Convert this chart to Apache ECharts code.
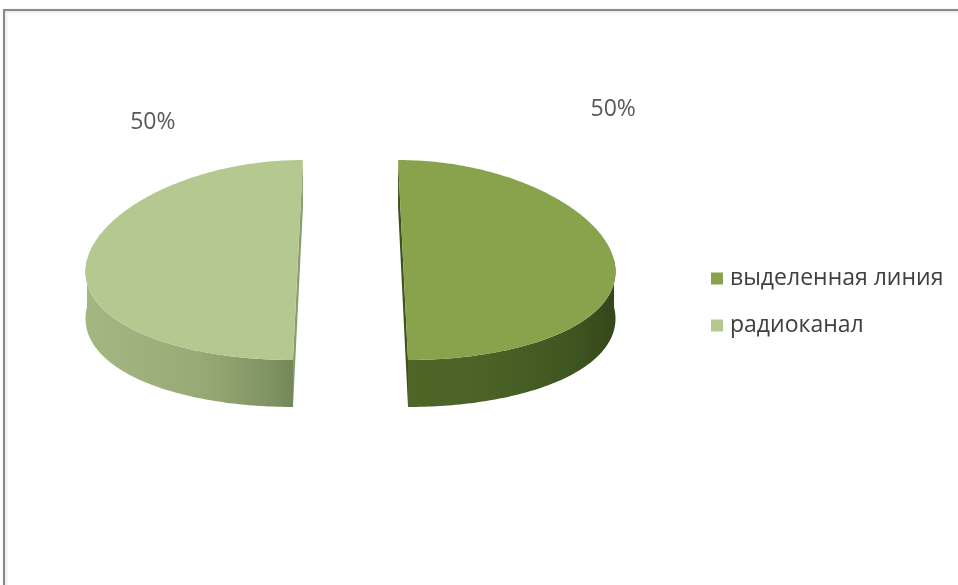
<!DOCTYPE html>
<html>
<head>
<meta charset="utf-8">
<script src="https://cdn.jsdelivr.net/npm/echarts@6/dist/echarts.min.js"></script>
<style>
html,body{margin:0;padding:0;background:#fff;}
#chart{width:958px;height:585px;}
</style>
</head>
<body>
<div id="chart"></div>
<script>
// ---- data ----
const categories = ['выделенная линия', 'радиоканал'];
const values = [50, 50];

// ---- styles ----
const topColors = ['#88a34c', '#b5c890'];
const wallStops = [
  [[0, '#4d6628'], [0.35, '#4b6326'], [0.8, '#3f5520'], [1, '#34461a']],
  [[0, '#a4b783'], [0.55, '#98ab77'], [0.9, '#7f9262'], [1, '#738657']]
];
const cutColors = ['#3e5220', '#8a9c6d'];

const total = values.reduce((a, b) => a + b, 0);

// projection parameters
const Cx = 350.5, Cy = 260, R = 211, Ry = 100, P = 0.095, EXPL = 0.249, H = 47;
const deg = Math.PI / 180;
function proj(u, v, h) { return [Cx + R * u * (1 + P * v), Cy + Ry * v + h]; }

// label layout (angle offset from slice mid, radius factor)
const labelLayout = [{ ang: -51.4, k: 1.93 }, { ang: 59, k: 1.61 }];

function makeRender(idx) {
  return function (params, api) {
    const val = api.value(0);
    let cum = 0;
    for (let j = 0; j < idx; j++) cum += values[j];
    const a0 = 360 * cum / total, a1 = 360 * (cum + val) / total;
    const mid = (a0 + a1) / 2;
    const eu = EXPL * Math.sin(mid * deg), ev = -EXPL * Math.cos(mid * deg);
    const rim = (phi, h) => proj(eu + Math.sin(phi * deg), ev - Math.cos(phi * deg), h);
    const N = 90;
    const children = [];
    // radial cut faces
    [a0, a1].forEach(function (a) {
      const pts = [];
      for (let t = 0; t <= 20; t++) {
        const f = t / 20;
        pts.push(proj(eu + f * Math.sin(a * deg), ev - f * Math.cos(a * deg), 0));
      }
      for (let t = 20; t >= 0; t--) {
        const f = t / 20;
        pts.push(proj(eu + f * Math.sin(a * deg), ev - f * Math.cos(a * deg), H));
      }
      children.push({ type: 'polygon', shape: { points: pts }, style: { fill: cutColors[idx] } });
    });
    // outer wall (front part)
    const s = Math.max(a0, 90), e2 = Math.min(a1, 270);
    if (e2 > s) {
      const wp = [];
      for (let t = 0; t <= N; t++) wp.push(rim(s + (e2 - s) * t / N, 0));
      for (let t = N; t >= 0; t--) wp.push(rim(s + (e2 - s) * t / N, H));
      children.push({
        type: 'polygon', shape: { points: wp },
        style: { fill: new echarts.graphic.LinearGradient(0, 0, 1, 0,
          wallStops[idx].map(c => ({ offset: c[0], color: c[1] }))) }
      });
    }
    // top face
    const tp = [proj(eu, ev, 0)];
    for (let t = 0; t <= N * 2; t++) tp.push(rim(a0 + (a1 - a0) * t / (N * 2), 0));
    children.push({ type: 'polygon', shape: { points: tp }, style: { fill: topColors[idx] } });
    // label
    const L = labelLayout[idx];
    const la = (mid + L.ang) * deg;
    const lp = proj(eu + L.k * Math.sin(la), ev - L.k * Math.cos(la), 0);
    children.push({
      type: 'text', x: lp[0], y: lp[1],
      style: {
        text: Math.round(val / total * 100) + '%',
        fill: '#595959', font: '23px "Open Sans"',
        align: 'center', verticalAlign: 'middle'
      }
    });
    return { type: 'group', children: children };
  };
}

const chart = echarts.init(document.getElementById('chart'), null, { renderer: 'canvas' });
chart.setOption({
  backgroundColor: '#ffffff',
  animation: false,
  graphic: [{
    type: 'rect', silent: true, z: -1,
    shape: { x: 4, y: 10, width: 1100, height: 800 },
    style: { fill: '#ffffff', stroke: '#8a8a8a', lineWidth: 2,
      shadowColor: 'rgba(0,0,0,0.15)', shadowBlur: 3, shadowOffsetX: 1, shadowOffsetY: 1 }
  }],
  legend: {
    orient: 'vertical', left: 706, top: 262,
    itemWidth: 12, itemHeight: 12, itemGap: 24, icon: 'rect',
    data: categories,
    textStyle: { fontSize: 23, color: '#404040', fontFamily: 'Open Sans', padding: [0, 0, 0, 2] }
  },
  series: categories.map(function (name, i) {
    return {
      type: 'custom', name: name, coordinateSystem: 'none',
      itemStyle: { color: topColors[i] },
      data: [values[i]],
      renderItem: makeRender(i)
    };
  })
});
</script>
</body>
</html>
